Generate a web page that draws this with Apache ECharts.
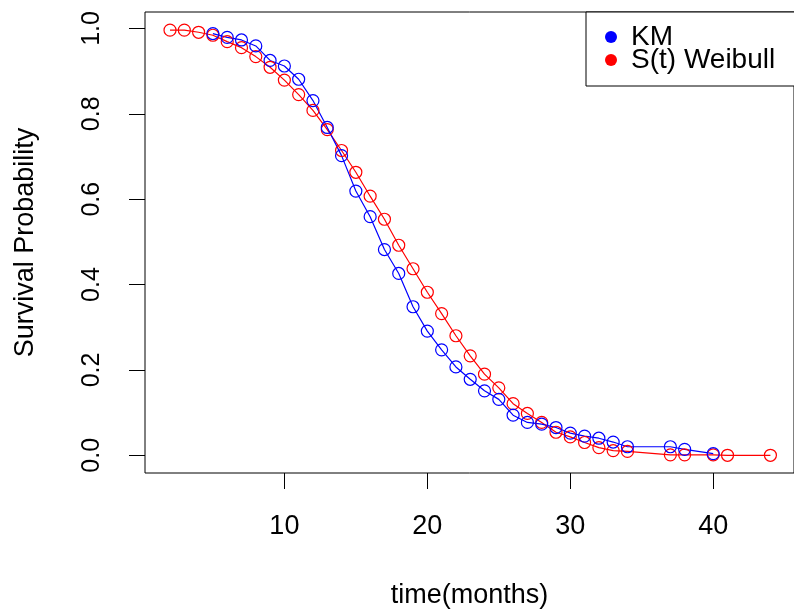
<!DOCTYPE html>
<html>
<head>
<meta charset="utf-8">
<script src="https://cdn.jsdelivr.net/npm/echarts@6/dist/echarts.min.js"></script>
<style>
html,body{margin:0;padding:0;background:#fff;}
#chart{width:794px;height:614px;}
</style>
</head>
<body>
<div id="chart"></div>
<script>
// KM estimate
const kmTime = [5,6,7,8,9,10,11,12,13,14,15,16,17,18,19,20,21,22,23,24,25,26,27,28,29,30,31,32,33,34,37,38,40];
const kmSurv = [0.988,0.979,0.973,0.959,0.925,0.912,0.881,0.831,0.768,0.702,0.619,0.559,0.482,0.426,0.348,0.291,0.247,0.207,0.178,0.151,0.131,0.094,0.077,0.073,0.065,0.052,0.045,0.040,0.031,0.020,0.020,0.014,0.004];
// Weibull fit S(t)
const wbTime = [2,3,4,5,6,7,8,9,10,11,12,13,14,15,16,17,18,19,20,21,22,23,24,25,26,27,28,29,30,31,32,33,34,37,38,40,41,44];
const wbSurv = [0.996,0.996,0.991,0.984,0.969,0.955,0.934,0.909,0.879,0.845,0.808,0.763,0.714,0.663,0.607,0.553,0.492,0.437,0.382,0.332,0.280,0.233,0.190,0.158,0.121,0.098,0.077,0.054,0.043,0.030,0.018,0.011,0.009,0.001,0.001,0.001,0.000,0.000];
// tick labels
const xTicks = [10,20,30,40];
const yTicks = [0,0.2,0.4,0.6,0.8,1.0];

const FONT = "'Liberation Sans', Arial, sans-serif";
const pairs = (xs, ys) => xs.map((x, i) => [x, ys[i]]);

const chart = echarts.init(document.getElementById('chart'), null, {renderer: 'canvas'});
chart.setOption({
  animation: false,
  backgroundColor: '#fff',
  textStyle: {fontFamily: FONT, color: '#000'},
  grid: {
    left: 145, top: 12, width: 658, height: 461,
    show: true, borderColor: '#000', borderWidth: 1, backgroundColor: 'transparent'
  },
  graphic: [{
    type: 'rect', z: 50,
    shape: {x: 586, y: 12, width: 240, height: 74},
    style: {fill: '#fff', stroke: '#000', lineWidth: 1}
  }],
  legend: {
    orient: 'vertical',
    left: 586, top: 12, z: 60,
    padding: [11, 0, 10, 19],
    itemGap: -5,
    itemWidth: 30, itemHeight: 12,
    icon: 'circle',
    textStyle: {fontSize: 28, color: '#000', fontFamily: FONT},
    data: [
      {name: 'KM', itemStyle: {color: '#0000FF', borderWidth: 0}},
      {name: 'S(t) Weibull', itemStyle: {color: '#FF0000', borderWidth: 0}}
    ]
  },
  xAxis: {
    type: 'value',
    min: 0.25, max: 45.65,
    name: 'time(months)',
    nameLocation: 'middle',
    nameGap: 109,
    nameTextStyle: {fontSize: 27, color: '#000', fontFamily: FONT},
    axisLine: {show: false, onZero: false},
    axisTick: {show: true, inside: false, customValues: xTicks, length: 16, lineStyle: {color: '#000', width: 1}},
    axisLabel: {customValues: xTicks, fontSize: 27, color: '#000', margin: 40, fontFamily: FONT},
    splitLine: {show: false}
  },
  yAxis: {
    type: 'value',
    min: -0.0415, max: 1.0385,
    name: 'Survival Probability',
    nameLocation: 'middle',
    nameGap: 106,
    nameTextStyle: {fontSize: 27, color: '#000', fontFamily: FONT},
    axisLine: {show: false, onZero: false},
    axisTick: {show: true, inside: false, customValues: yTicks, length: 16, lineStyle: {color: '#000', width: 1}},
    axisLabel: {customValues: yTicks, fontSize: 25, color: '#000', margin: 40, rotate: 90, fontFamily: FONT,
      formatter: v => v.toFixed(1)},
    splitLine: {show: false}
  },
  series: [
    {
      name: 'S(t) Weibull', type: 'line', data: pairs(wbTime, wbSurv),
      symbol: 'circle', symbolSize: 12,
      itemStyle: {color: 'rgba(0,0,0,0)', borderColor: '#FF0000', borderWidth: 1.2},
      lineStyle: {color: '#FF0000', width: 1.2},
      emphasis: {disabled: true}
    },
    {
      name: 'KM', type: 'line', data: pairs(kmTime, kmSurv),
      symbol: 'circle', symbolSize: 12,
      itemStyle: {color: 'rgba(0,0,0,0)', borderColor: '#0000FF', borderWidth: 1.2},
      lineStyle: {color: '#0000FF', width: 1.2},
      emphasis: {disabled: true}
    }
  ]
});
</script>
</body>
</html>
